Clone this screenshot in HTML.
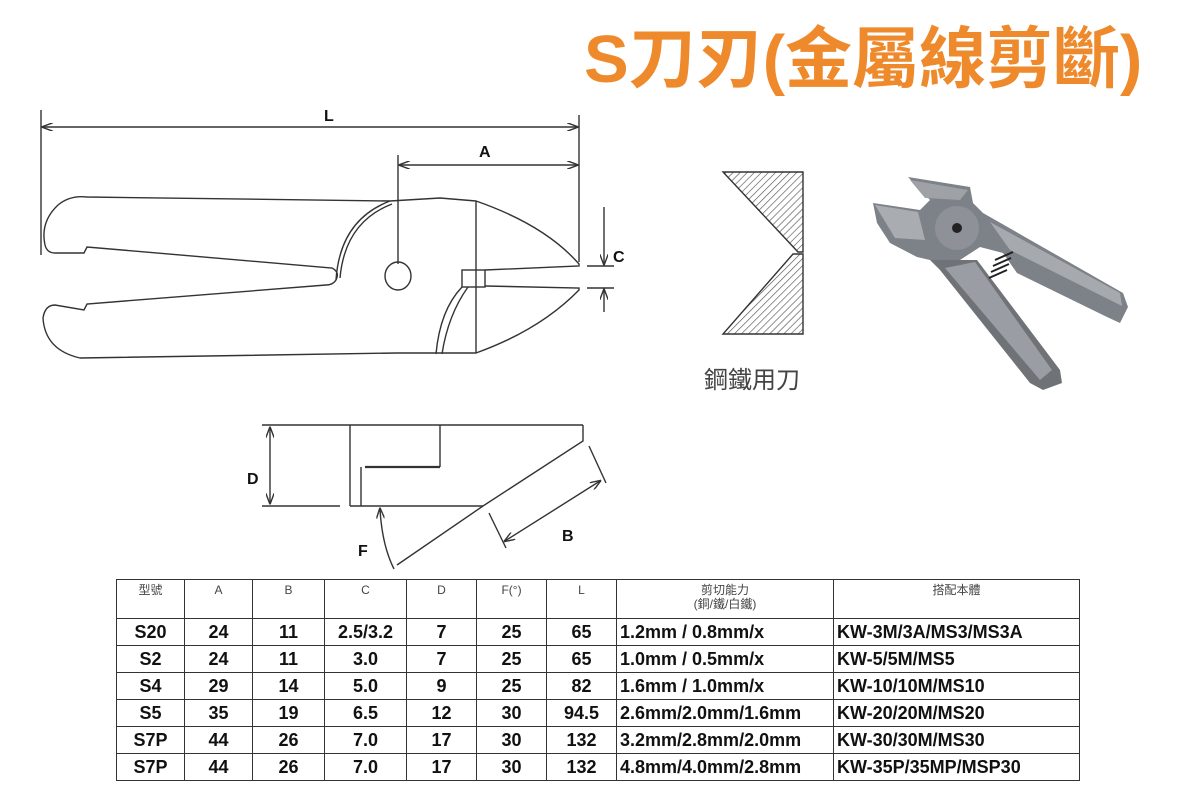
<!DOCTYPE html>
<html><head><meta charset="utf-8"><style>
html,body{margin:0;padding:0;background:#fff;}
body{width:1200px;height:800px;position:relative;overflow:hidden;font-family:"Liberation Sans","Noto Sans CJK TC",sans-serif;}
.title{position:absolute;left:584px;top:18px;font-size:67px;font-weight:bold;color:#ef8a2c;white-space:nowrap;line-height:84px;}
table{position:absolute;left:116px;top:579px;border-collapse:collapse;}
td{border:1.5px solid #333;padding:0;text-align:center;font-family:"Liberation Sans Narrow","Liberation Sans",sans-serif;font-weight:bold;font-size:18px;color:#111;height:26px;line-height:26px;}
tr.h td{height:35px;vertical-align:top;font-weight:normal;font-size:12px;color:#444;line-height:14px;padding-top:3px;font-family:"Liberation Sans","Noto Sans CJK TC",sans-serif;}
td.l{text-align:left;padding-left:3px;}
</style></head><body>
<div class="title">S刀刃(金屬線剪斷)</div>
<svg width="1200" height="800" style="position:absolute;left:0;top:0" fill="none" stroke="#333" stroke-width="1.4">
<defs>
<pattern id="hat" width="5" height="5" patternUnits="userSpaceOnUse" patternTransform="rotate(45)"><line x1="0" y1="0" x2="0" y2="5" stroke="#555" stroke-width="1.3"/></pattern>
<marker id="ar" markerWidth="8" markerHeight="6" refX="7" refY="3" orient="auto-start-reverse"><path d="M0,0 L8,3 L0,6" fill="none" stroke="#333" stroke-width="1"/></marker>
</defs>
<line x1="41" y1="110" x2="41" y2="255"/>
<line x1="579" y1="115" x2="579" y2="262"/>
<line x1="43" y1="127" x2="577" y2="127" marker-start="url(#ar)" marker-end="url(#ar)"/>
<text x="324" y="121" fill="#111" stroke="none" font-size="16" font-weight="bold">L</text>
<line x1="398" y1="155" x2="398" y2="264"/>
<line x1="400" y1="165" x2="577" y2="165" marker-start="url(#ar)" marker-end="url(#ar)"/>
<text x="479" y="157" fill="#111" stroke="none" font-size="16" font-weight="bold">A</text>
<line x1="604" y1="207" x2="604" y2="264" marker-end="url(#ar)"/>
<line x1="604" y1="312" x2="604" y2="290" marker-end="url(#ar)"/>
<line x1="587" y1="266" x2="614" y2="266"/>
<line x1="587" y1="288" x2="614" y2="288"/>
<text x="613" y="262" fill="#111" stroke="none" font-size="16" font-weight="bold">C</text>
<path d="M390,201 L87,197 Q70,195 58,205 Q40,222 45,245 Q47,253 55,253 L84,253 L87,247 L332,268 Q340,272 336,280 Q333,285 326,285 L87,304 L84,310 L55,305 Q45,305 43,318 Q45,350 80,358 L397,353 L476,353 Q540,330 579,290 L579,288 L485,286"/>
<path d="M390,201 L440,198 L476,201 Q545,225 579,264 L579,266 L485,270"/>
<path d="M390,201 Q340,220 336,280"/>
<path d="M392,204 Q345,222 340,278"/>
<rect x="462" y="270" width="23" height="17"/>
<line x1="476" y1="201" x2="476" y2="353"/>
<path d="M462,287 Q440,310 436,354"/>
<path d="M468,287 Q448,315 442,354"/>
<ellipse cx="398" cy="276" rx="13" ry="14"/>
<line x1="262" y1="425" x2="583" y2="425"/>
<line x1="262" y1="506" x2="340" y2="506"/>
<line x1="350" y1="506" x2="483" y2="506"/>
<line x1="270" y1="428" x2="270" y2="503" marker-start="url(#ar)" marker-end="url(#ar)"/>
<text x="247" y="484" fill="#111" stroke="none" font-size="16" font-weight="bold">D</text>
<line x1="350" y1="425" x2="350" y2="506"/>
<line x1="440" y1="425" x2="440" y2="467"/>
<line x1="365" y1="467" x2="440" y2="467" stroke-width="2.2"/>
<line x1="361" y1="467" x2="361" y2="506"/>
<polyline points="583,425 583,441 483,506"/>
<line x1="483" y1="506" x2="397" y2="565"/>
<line x1="589" y1="446" x2="606" y2="483"/>
<line x1="489" y1="513" x2="506" y2="548"/>
<line x1="600" y1="481" x2="505" y2="541" marker-start="url(#ar)" marker-end="url(#ar)"/>
<text x="562" y="541" fill="#111" stroke="none" font-size="16" font-weight="bold">B</text>
<path d="M380,509 Q382,545 394,569" marker-start="url(#ar)"/>
<text x="358" y="556" fill="#111" stroke="none" font-size="16" font-weight="bold">F</text>
<polygon points="723,172 803,172 803,252 798,252" fill="url(#hat)"/>
<polygon points="793,254 803,254 803,334 723,334" fill="url(#hat)"/>
<text x="704" y="388" fill="#444" stroke="none" font-size="24" font-family="Noto Sans CJK TC, sans-serif">鋼鐵用刀</text>
<g stroke="none">
<polygon points="930,260 977,260 1060,370 1062,383 1043,390 1030,383 940,270" fill="#6f7378"/>
<polygon points="945,268 975,262 1052,370 1040,380" fill="#9a9ea4"/>
<polygon points="873,203 920,210 930,200 908,177 970,187 973,203 983,213 1123,293 1128,307 1120,323 1107,317 1017,273 1003,253 980,247 960,260 930,260 917,257 890,243 877,223" fill="#7d8288"/>
<polygon points="990,222 1120,293 1122,306 1010,250" fill="#a6aaaf"/>
<polygon points="875,205 918,212 925,240 895,238" fill="#a9adb2"/>
<polygon points="910,180 968,190 960,200 925,198" fill="#9ea2a7"/>
<circle cx="957" cy="228" r="22" fill="#8e9298"/>
<circle cx="957" cy="228" r="5" fill="#222"/>
<path d="M995,260 l18,-8 M993,266 l18,-8 M991,272 l18,-8 M989,278 l18,-8" stroke="#222" stroke-width="2"/>
</g>
</svg>
<table>
<tr class="h"><td style="width:67px">型號</td><td style="width:67px">A</td><td style="width:71px">B</td><td style="width:81px">C</td><td style="width:69px">D</td><td style="width:69px">F(°)</td><td style="width:69px">L</td><td style="width:216px">剪切能力<br>(銅/鐵/白鐵)</td><td style="width:245px">搭配本體</td></tr>
<tr><td>S20</td><td>24</td><td>11</td><td>2.5/3.2</td><td>7</td><td>25</td><td>65</td><td class="l">1.2mm / 0.8mm/x</td><td class="l">KW-3M/3A/MS3/MS3A</td></tr>
<tr><td>S2</td><td>24</td><td>11</td><td>3.0</td><td>7</td><td>25</td><td>65</td><td class="l">1.0mm / 0.5mm/x</td><td class="l">KW-5/5M/MS5</td></tr>
<tr><td>S4</td><td>29</td><td>14</td><td>5.0</td><td>9</td><td>25</td><td>82</td><td class="l">1.6mm / 1.0mm/x</td><td class="l">KW-10/10M/MS10</td></tr>
<tr><td>S5</td><td>35</td><td>19</td><td>6.5</td><td>12</td><td>30</td><td>94.5</td><td class="l">2.6mm/2.0mm/1.6mm</td><td class="l">KW-20/20M/MS20</td></tr>
<tr><td>S7P</td><td>44</td><td>26</td><td>7.0</td><td>17</td><td>30</td><td>132</td><td class="l">3.2mm/2.8mm/2.0mm</td><td class="l">KW-30/30M/MS30</td></tr>
<tr><td>S7P</td><td>44</td><td>26</td><td>7.0</td><td>17</td><td>30</td><td>132</td><td class="l">4.8mm/4.0mm/2.8mm</td><td class="l">KW-35P/35MP/MSP30</td></tr>
</table>
</body></html>
